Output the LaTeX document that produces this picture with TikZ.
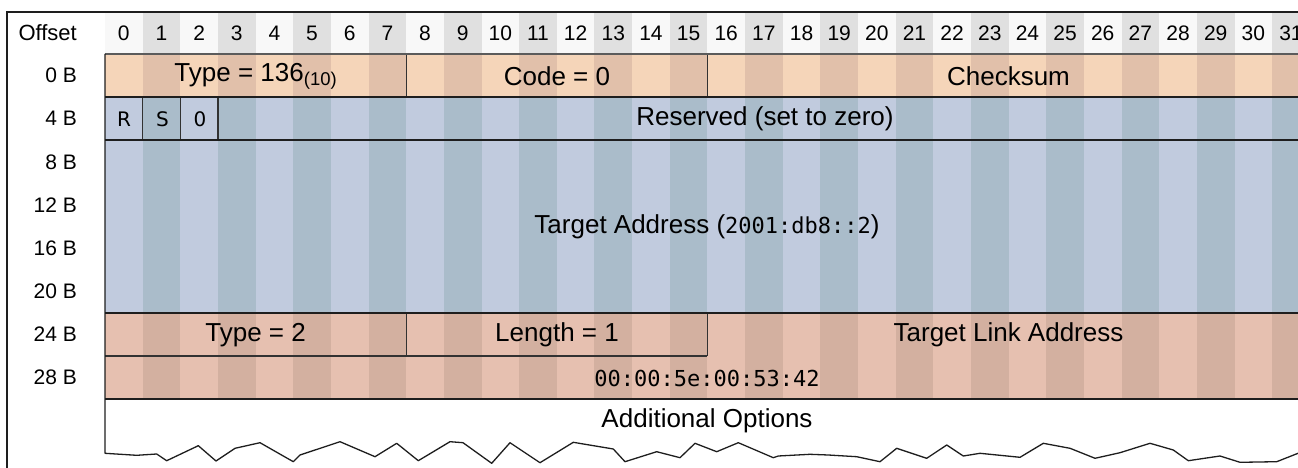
\documentclass[tikz,border=0pt]{standalone}
\usepackage{fontspec}
\setmainfont{Liberation Sans}
\setmonofont{DejaVu Sans Mono}
\newfontfamily\flagfont{DejaVu Sans}

% column stripe colours (light / dark)
\definecolor{hdrA}{RGB}{248,248,248}
\definecolor{hdrB}{RGB}{224,224,224}
\definecolor{icmpA}{RGB}{245,213,185}
\definecolor{icmpB}{RGB}{225,192,170}
\definecolor{addrA}{RGB}{193,203,222}
\definecolor{addrB}{RGB}{170,188,202}
\definecolor{optA}{RGB}{230,192,176}
\definecolor{optB}{RGB}{211,176,160}
\definecolor{inkline}{RGB}{30,30,30}
\definecolor{fieldline}{RGB}{50,50,50}

\tikzset{
  frameline/.style={draw=inkline, line width=2.2pt},
  rowline/.style={draw=inkline, line width=2pt},
  hdrline/.style={draw=fieldline!80, line width=2pt},
  sepline/.style={draw=fieldline, line width=1.4pt},
  tearline/.style={draw=inkline, line width=1.3pt, line join=round},
  fieldtext/.style={inner sep=0pt, font=\fontsize{26}{30}\selectfont},
  bittext/.style={inner sep=0pt, font=\fontsize{21}{24}\selectfont},
  offtext/.style={inner sep=0pt, anchor=east, font=\fontsize{21}{24}\selectfont},
  flagtext/.style={inner sep=0pt, font=\flagfont\fontsize{20}{24}\selectfont},
}

\newcommand{\hexval}[1]{{\ttfamily\fontsize{22}{26}\selectfont #1}}

\begin{document}
\begin{tikzpicture}[x=1pt, y=-1pt]
\useasboundingbox (0,0) rectangle (1298,468);
\clip (0,0) rectangle (1298,468);

\def\cw{37.65}
\def\rh{43.125}
% column edges: x = 105 + cw * i ; row edges: y = 54 + rh * k
\def\cx#1{\fpeval{105+37.65*(#1)}}
\def\ry#1{\fpeval{54+43.125*(#1)}}

% striped backgrounds
\foreach \i in {0,...,31} {
  \pgfmathsetmacro\xa{105+\cw*\i}
  \pgfmathsetmacro\xb{\xa+\cw}
  \pgfmathtruncatemacro\odd{mod(\i,2)}
  \ifnum\odd=0
    \def\hc{hdrA}\def\ic{icmpA}\def\ac{addrA}\def\oc{optA}
  \else
    \def\hc{hdrB}\def\ic{icmpB}\def\ac{addrB}\def\oc{optB}
  \fi
  \fill[\hc] (\xa,12) rectangle (\xb,54);
  \fill[\ic] (\xa,54) rectangle (\xb,97.125);
  \fill[\ac] (\xa,97.125) rectangle (\xb,312.75);
  \fill[\oc] (\xa,312.75) rectangle (\xb,399);
  \node[bittext] (bit\i) at ({(\xa+\xb)/2},33) {\i};
}

% offset column
\node[offtext, font=\fontsize{22}{26}\selectfont] (offset) at (77,33) {Offset};
\foreach \k/\lab in {0/0,1/4,2/8,3/12,4/16,5/20,6/24,7/28} {
  \node[offtext] (row\k) at (77,{54+\rh*(\k+0.5)}) {\lab\ B};
}

% field separators
\draw[sepline] (\cx{8},\ry{0}) -- (\cx{8},\ry{1});
\draw[sepline] (\cx{16},\ry{0}) -- (\cx{16},\ry{1});
\draw[sepline] (\cx{1},\ry{1}) -- (\cx{1},\ry{2});
\draw[sepline] (\cx{2},\ry{1}) -- (\cx{2},\ry{2});
\draw[sepline] (\cx{3},\ry{1}) -- (\cx{3},\ry{2});
\draw[sepline] (\cx{8},\ry{6}) -- (\cx{8},\ry{7});
\draw[sepline] (\cx{16},\ry{6}) -- (\cx{16},\ry{7});
\draw[sepline] (\cx{0},\ry{7}) -- (\cx{16},\ry{7});

% row group rules
\draw[hdrline] (105,\ry{0}) -- (1310,\ry{0});
\draw[rowline] (105,\ry{1}) -- (1310,\ry{1});
\draw[rowline] (105,\ry{2}) -- (1310,\ry{2});
\draw[rowline] (105,\ry{6}) -- (1310,\ry{6});
\draw[rowline] (105,\ry{8}) -- (1310,\ry{8});

% left edge of the packet and torn bottom of the options area
\draw[tearline] (105,\ry{0}) -- (105,453.3)
  -- (136.7,455.3) -- (156.7,454) -- (166.7,460.7) -- (198.3,445.7)
  -- (216,461) -- (235,448.3) -- (260,442.7) -- (293.3,461.7)
  -- (300,455) -- (340,441.7) -- (375,456.7) -- (396.7,443.3)
  -- (418.3,460.7) -- (450,441.7) -- (463,442.7) -- (491.7,463.3)
  -- (510,442.7) -- (540,462.7) -- (573.3,442.3) -- (613.3,449)
  -- (625,461.7) -- (656.7,451.7) -- (680,457.7) -- (695,443.3)
  -- (716.7,451.7) -- (738.3,442.7) -- (773.3,457.7) -- (778.3,456)
  -- (810,454.3) -- (828.3,455) -- (856.7,456.7) -- (880,461.7)
  -- (896.7,448.3) -- (926.7,458.3) -- (946.7,445) -- (963.3,456)
  -- (980,453.3) -- (1020,457.3) -- (1043.3,443.3) -- (1070,448.3)
  -- (1095,458.3) -- (1120,452.7) -- (1150,443.3) -- (1173.3,450)
  -- (1188.3,460.7) -- (1220,456) -- (1240,462.3) -- (1276.7,461.7)
  -- (1298,453.3) -- (1312,449);

% outer frame
\draw[frameline] (7,12) rectangle (1330,520);

% field labels
\node[fieldtext] (type) at (255.6,76) {Type = 136\raisebox{-4pt}{\fontsize{18.5}{20}\selectfont(10)}};
\node[fieldtext] (code) at (557,76) {Code = 0};
\node[fieldtext] (cksum) at (1008.5,76) {Checksum};
\node[flagtext] (flagR) at (124,119) {R};
\node[flagtext] (flagS) at (162.5,119) {S};
\node[flagtext] (flagO) at (200,119) {0};
\node[fieldtext] (resv) at (765,119) {Reserved (set to zero)};
\node[fieldtext] (target) at (707,227) {Target Address (\hexval{2001:db8::2})};
\node[fieldtext] (otype) at (255.6,335) {Type = 2};
\node[fieldtext] (olen) at (557,335) {Length = 1};
\node[fieldtext] (tla) at (1008.5,335) {Target Link Address};
\node[inner sep=0pt] (mac) at (707,378) {\hexval{00:00:5e:00:53:42}};
\node[fieldtext] (addopt) at (707,421) {Additional Options};
\end{tikzpicture}
\end{document}
